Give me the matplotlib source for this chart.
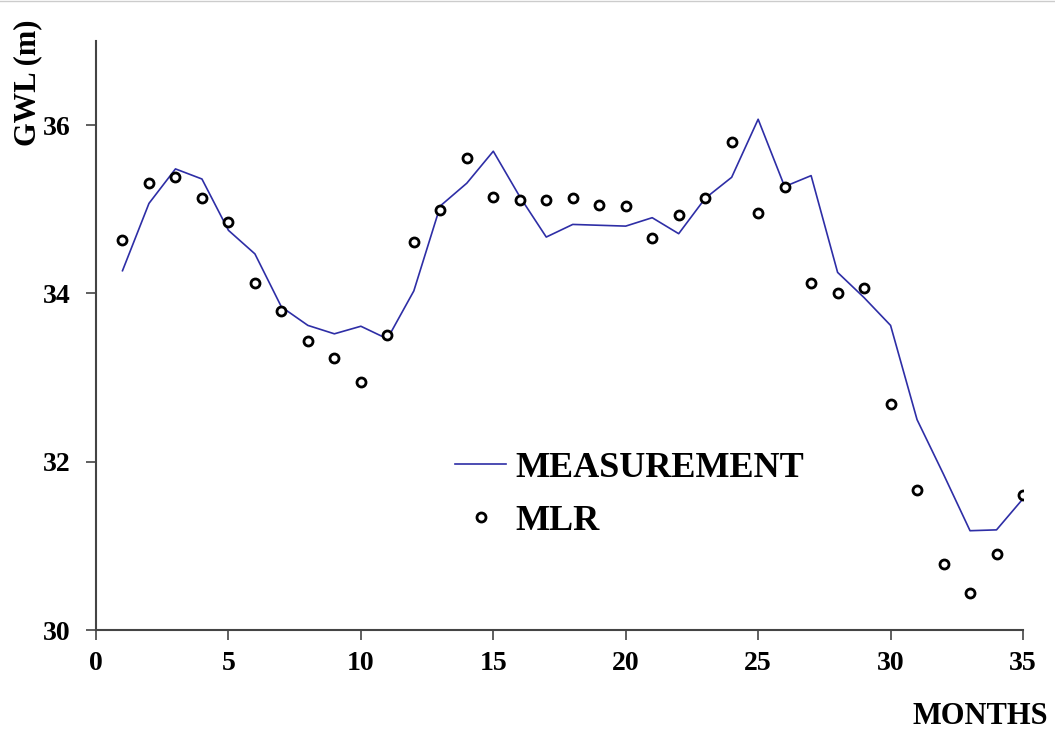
import numpy as np
import matplotlib.pyplot as plt

# monthly data
months = np.arange(1, 36)
measurement = [34.27, 35.07, 35.48, 35.36, 34.75, 34.47, 33.84, 33.62, 33.52, 33.61,
               33.46, 34.03, 35.04, 35.31, 35.69, 35.15, 34.67, 34.82, 34.81, 34.80,
               34.90, 34.71, 35.13, 35.38, 36.07, 35.27, 35.40, 34.25, 33.95, 33.62,
               32.50, 31.85, 31.18, 31.19, 31.56]
mlr = [34.64, 35.31, 35.38, 35.14, 34.85, 34.12, 33.79, 33.44, 33.23, 32.95,
       33.51, 34.61, 34.99, 35.61, 35.15, 35.11, 35.11, 35.14, 35.05, 35.04,
       34.66, 34.93, 35.14, 35.80, 34.96, 35.26, 34.12, 34.01, 34.06, 32.68,
       31.66, 30.78, 30.44, 30.90, 31.60]

xticks = [0, 5, 10, 15, 20, 25, 30, 35]
yticks = [30, 32, 34, 36]

plt.rcParams['font.family'] = ['Liberation Serif', 'DejaVu Serif']
plt.rcParams['font.weight'] = 'bold'

fig = plt.figure(figsize=(10.55, 7.33), dpi=100)
ax = fig.add_axes([96 / 1055, 1 - 630 / 733, (1023 - 96) / 1055, (630 - 41) / 733])

ax.plot(months, measurement, color='#2E2EA6', lw=1.2, label='MEASUREMENT')
ax.plot(months, mlr, 'o', mfc='white', mec='black', mew=2, ms=6.5, label='MLR')

ax.set_xlim(0, 35)
ax.set_ylim(30, 37)
ax.set_xticks(xticks)
ax.set_yticks(yticks)
ax.spines['top'].set_visible(False)
ax.spines['right'].set_visible(False)
for s in ['left', 'bottom']:
    ax.spines[s].set_color('#444444')
    ax.spines[s].set_linewidth(1.5)
ax.tick_params(direction='out', length=7, width=1.2, color='#444444',
               labelsize=20)
ax.tick_params(axis='x', pad=8)
ax.tick_params(axis='y', pad=11)
for lab in ax.get_xticklabels() + ax.get_yticklabels():
    lab.set_fontweight('bold')

fig.text(1048 / 1055, 1 - 716 / 733, 'MONTHS', ha='right', va='center',
         fontsize=22, fontweight='bold')
fig.text(28 / 1055, 1 - 83 / 733, 'GWL (m)', ha='center', va='center',
         rotation=90, fontsize=22, fontweight='bold')

ax.legend(loc='upper left', bbox_to_anchor=((423 - 96) / 927, (630 - 419) / 589),
          frameon=False, prop={'size': 26, 'weight': 'bold'},
          handlelength=1.4, handletextpad=0.25, labelspacing=0.55)

# thin border line at the top of the image
fig.add_artist(plt.Line2D([0, 1], [0.998, 0.998], color='#cccccc', lw=1,
                          transform=fig.transFigure))

fig.savefig('out.png', dpi=100)
